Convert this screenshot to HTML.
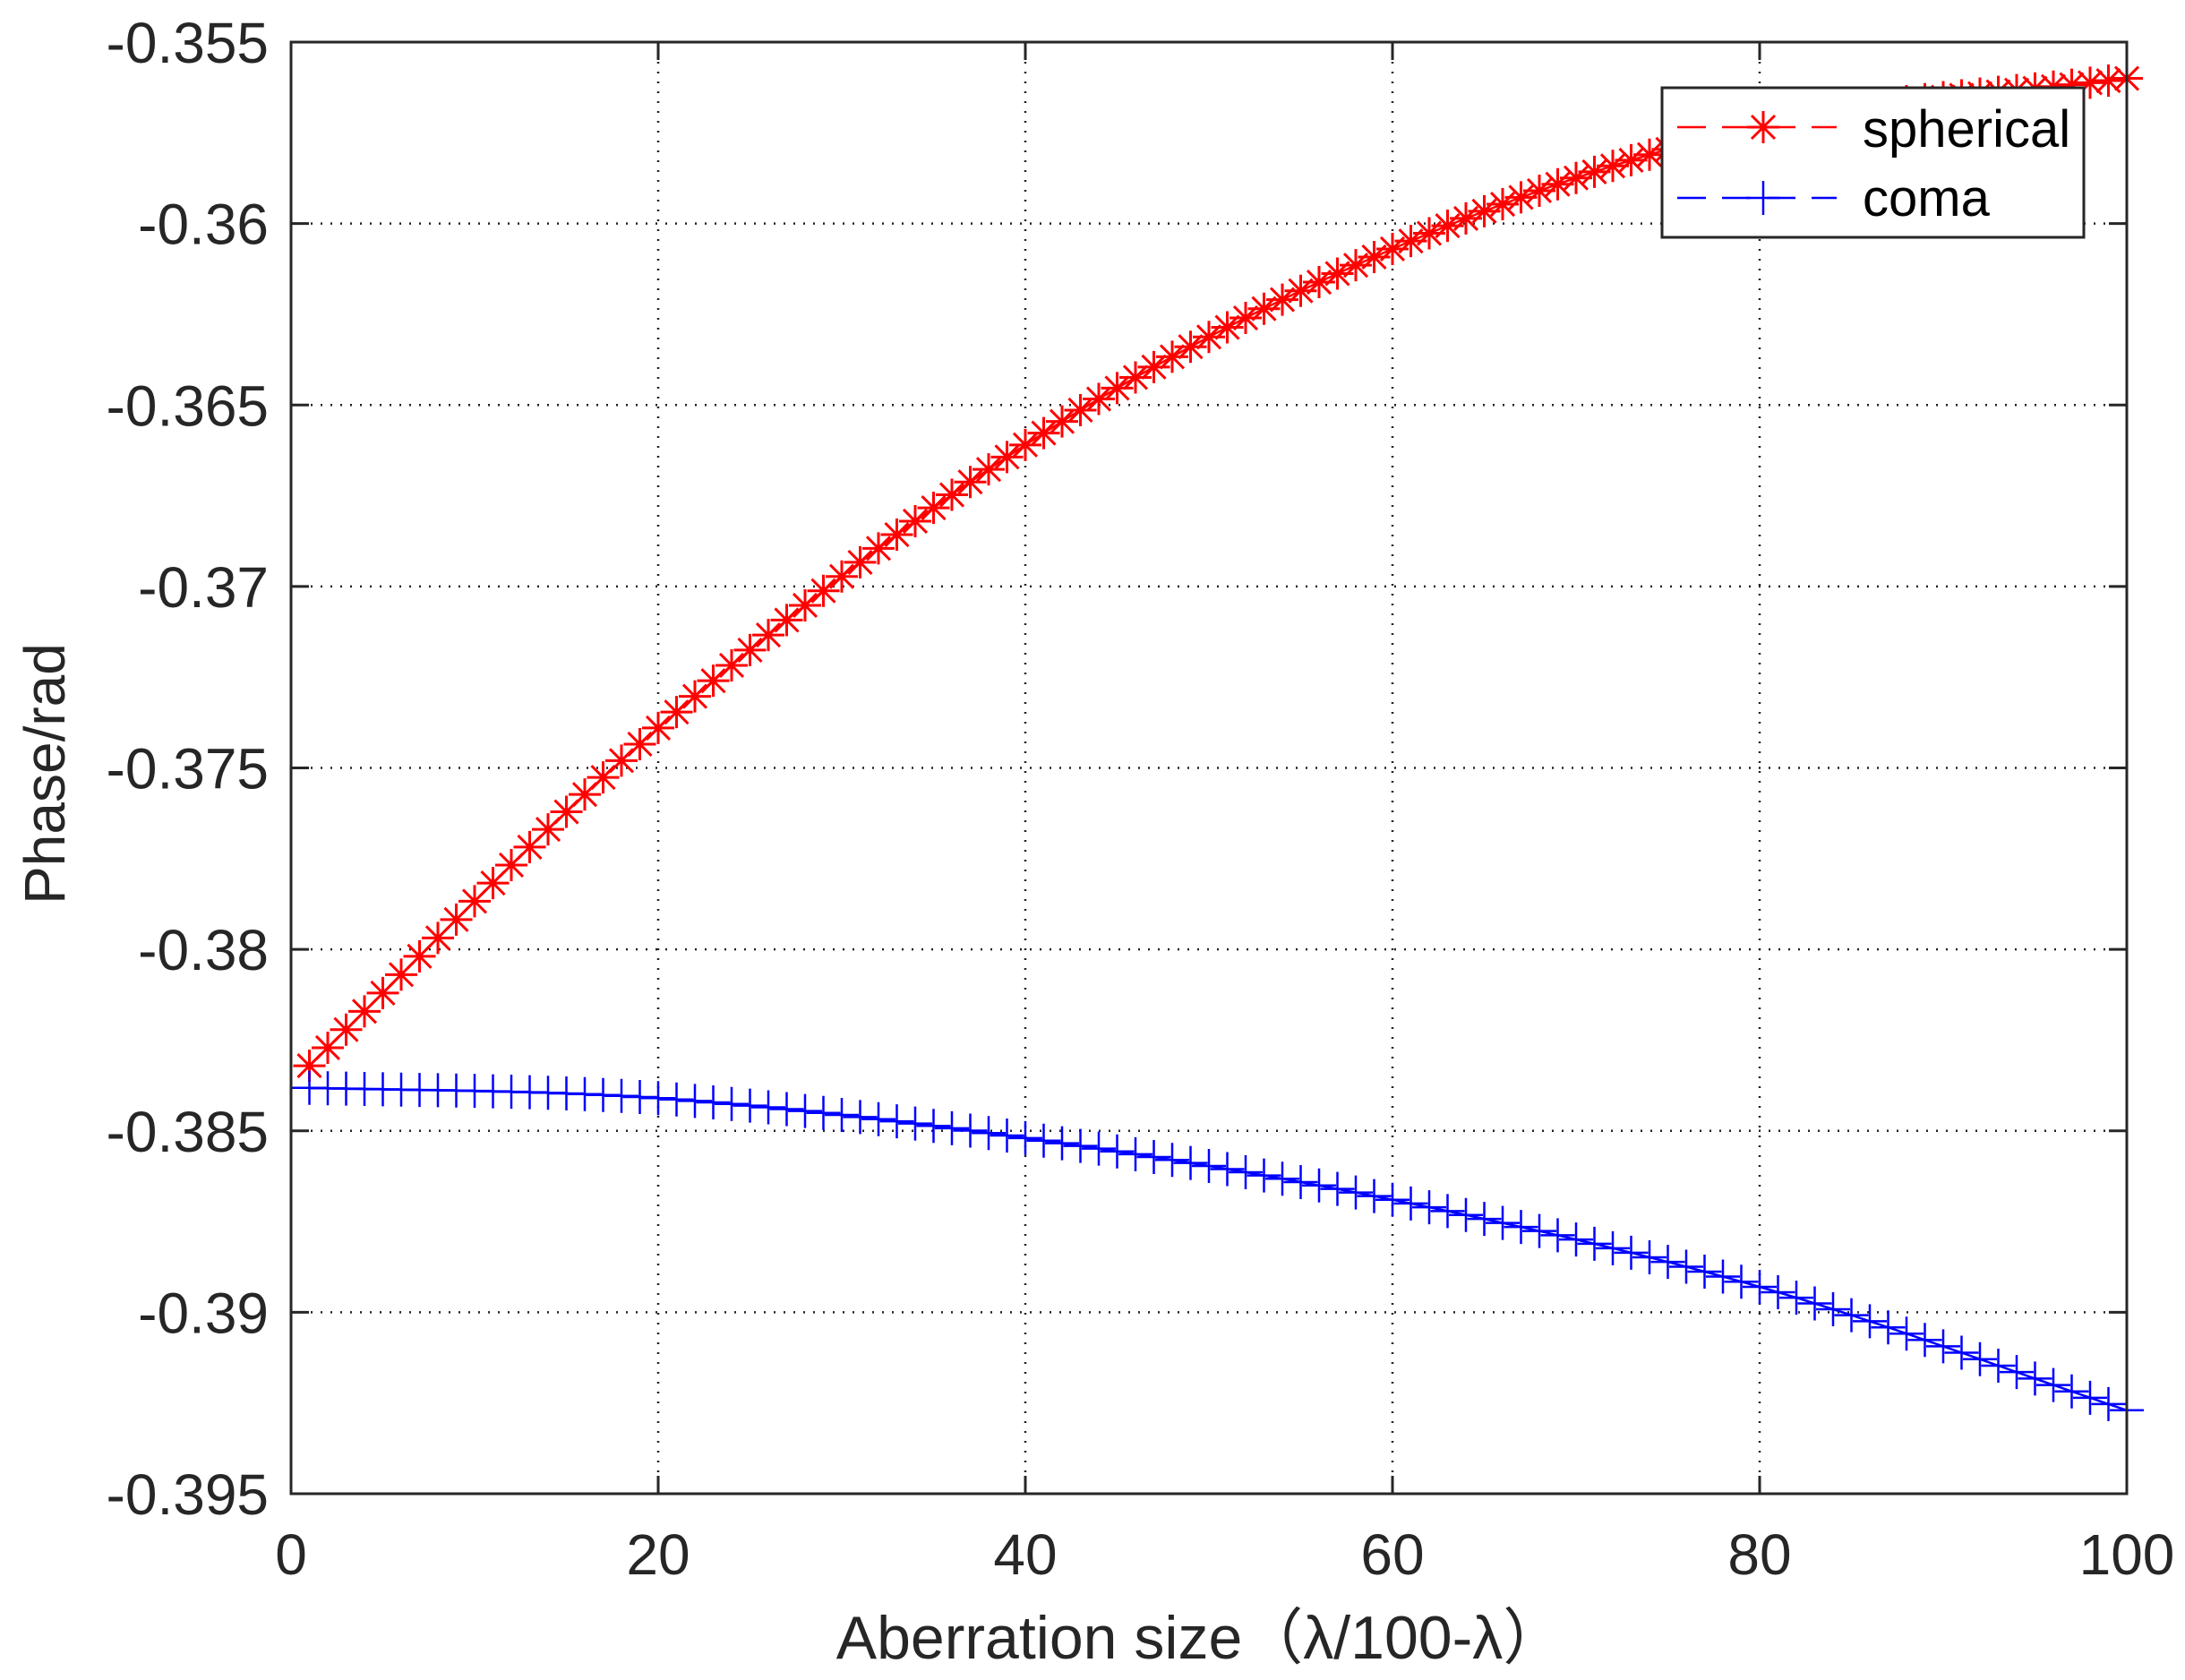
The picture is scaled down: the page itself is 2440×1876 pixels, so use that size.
<!DOCTYPE html>
<html><head><meta charset="utf-8"><style>
html,body{margin:0;padding:0;background:#fff;}
svg{display:block;font-family:"Liberation Sans","Noto Sans CJK SC",sans-serif;}
</style></head><body>
<svg id="s" width="2440" height="1876" viewBox="0 0 2440 1876" xmlns="http://www.w3.org/2000/svg">
<rect width="2440" height="1876" fill="#fff"/>
<g id="grid" stroke="#222" stroke-width="2.5" stroke-dasharray="2,9"></g>
<g id="ticks" stroke="#262626" stroke-width="3"></g>
<g id="lab" font-size="64" fill="#262626"></g>
<g id="series"></g>
<rect x="325" y="47" width="2050" height="1621" fill="none" stroke="#262626" stroke-width="3"/>
<text x="1340" y="1852" font-size="68" fill="#262626" text-anchor="middle">Aberration size（λ/100-λ）</text>
<text transform="translate(72,864) rotate(-90)" font-size="64" fill="#262626" text-anchor="middle">Phase/rad</text>
<g>
<rect x="1856" y="98" width="471" height="167" fill="#fff" stroke="#262626" stroke-width="3"/>
<line x1="1873" y1="142" x2="2051" y2="142" stroke="#f00" stroke-width="2.5" stroke-dasharray="32,18"/>
<g stroke="#f00" stroke-width="3"><line x1="1969" y1="124" x2="1969" y2="160"/><line x1="1951" y1="142" x2="1987" y2="142"/><line x1="1956" y1="129" x2="1982" y2="155"/><line x1="1956" y1="155" x2="1982" y2="129"/></g>
<text x="2080" y="164" font-size="58" fill="#000">spherical</text>
<line x1="1873" y1="221" x2="2051" y2="221" stroke="#00f" stroke-width="2.5" stroke-dasharray="32,18"/>
<g stroke="#00f" stroke-width="2.5"><line x1="1969" y1="202" x2="1969" y2="240"/><line x1="1950" y1="221" x2="1988" y2="221"/></g>
<text x="2080" y="241" font-size="58" fill="#000">coma</text>
</g>
</svg>
<script>
var NS="http://www.w3.org/2000/svg";
function el(p,t,a){var e=document.createElementNS(NS,t);for(var k in a)e.setAttribute(k,a[k]);p.appendChild(e);return e;}
var L=325,R=2375,T=47,B=1668;
function X(v){return L+v*20.5;}
function Y(v){return T+(-0.355-v)/0.04*(B-T);}
var g=document.getElementById('grid'),tk=document.getElementById('ticks'),lb=document.getElementById('lab');
for(var i=0;i<=5;i++){var x=X(i*20);
 if(i>0&&i<5)el(g,'line',{x1:x,y1:T,x2:x,y2:B});
 el(tk,'line',{x1:x,y1:B,x2:x,y2:B-20});el(tk,'line',{x1:x,y1:T,x2:x,y2:T+20});
 var t=el(lb,'text',{x:x,y:1758,'text-anchor':'middle'});t.textContent=String(i*20);}
var yl=['-0.355','-0.36','-0.365','-0.37','-0.375','-0.38','-0.385','-0.39','-0.395'];
for(var j=0;j<=8;j++){var y=T+j*(B-T)/8;
 if(j>0&&j<8)el(g,'line',{x1:L,y1:y,x2:R,y2:y});
 el(tk,'line',{x1:L,y1:y,x2:L+20,y2:y});el(tk,'line',{x1:R,y1:y,x2:R-20,y2:y});
 var t=el(lb,'text',{x:300,y:y+23,'text-anchor':'end'});t.textContent=yl[j];}
function cr(pts,v){var n=pts.length,i=Math.min(Math.floor(v/20),n-2),t=(v-i*20)/20;
 var p0=pts[Math.max(i-1,0)],p1=pts[i],p2=pts[i+1],p3=pts[Math.min(i+2,n-1)];
 if(i==0)p0=2*p1-p2; if(i+2>n-1)p3=2*p2-p1;
 return 0.5*((2*p1)+(-p0+p2)*t+(2*p0-5*p1+4*p2-p3)*t*t+(-p0+3*p1-3*p2+p3)*t*t*t);}
var sp=[-0.3837,-0.3739,-0.3661,-0.3607,-0.3573,-0.3560];
var co=[-0.3838,-0.3841,-0.3852,-0.3869,-0.3893,-0.3927];
var s=document.getElementById('series');
function draw(pts,col,star){var d='';var m=el(s,'g',{stroke:col,'stroke-width':star?3:2.5,fill:'none'});
 for(var v=1;v<=100;v++){var x=X(v),y=Y(cr(pts,v));d+=(v==1?'M':'L')+x.toFixed(1)+','+y.toFixed(1);
  if(star){el(m,'path',{d:'M'+x+','+(y-18)+'v36M'+(x-18)+','+y+'h36M'+(x-13)+','+(y-13)+'l26,26M'+(x-13)+','+(y+13)+'l26,-26'});}
  else{el(m,'path',{d:'M'+x+','+(y-19)+'v38M'+(x-19)+','+y+'h38'});}}
 el(s,'path',{d:d,stroke:col,'stroke-width':2.5,fill:'none'});}
draw(sp,'#f00',true);draw(co,'#00f',false);
</script>
</body></html>
